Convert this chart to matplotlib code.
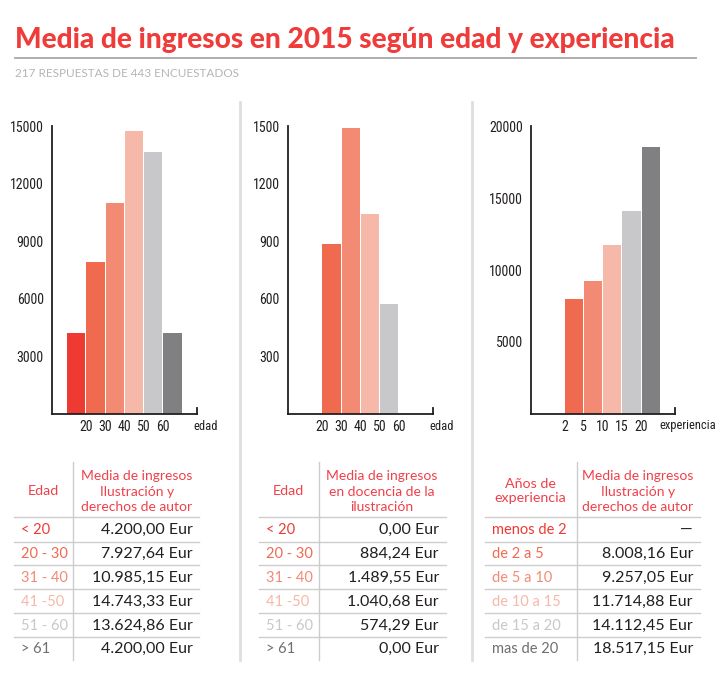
import numpy as np
import matplotlib
matplotlib.use("Agg")
import matplotlib.pyplot as plt
from matplotlib.lines import Line2D

W, H = 724, 678

TITLE = "Media de ingresos en 2015 según edad y experiencia"
SUBTITLE = "217 RESPUESTAS DE 443 ENCUESTADOS"

edad_labels = ["< 20", "20 - 30", "31 - 40", "41 -50", "51 - 60", "> 61"]
edad_ticks = ["20", "30", "40", "50", "60"]
ilus_edad = [4200.00, 7927.64, 10985.15, 14743.33, 13624.86, 4200.00]
docencia_edad = [0.00, 884.24, 1489.55, 1040.68, 574.29, 0.00]

exp_labels = ["menos de 2", "de 2 a 5", "de 5 a 10", "de 10 a 15", "de 15 a 20", "mas de 20"]
exp_ticks = ["2", "5", "10", "15", "20"]
ilus_exp = [np.nan, 8008.16, 9257.05, 11714.88, 14112.45, 18517.15]

COLORS = ["#EE3A33", "#F06A50", "#F28A74", "#F6B8A8", "#C8C8CA", "#808083"]
ROW_COLORS = ["#EE3A33", "#F06A50", "#F28A74", "#F6B8A8", "#C8C8CA", "#6D6E71"]
RED = "#EF3B39"
HEAD_RED = "#F0404A"
DARK = "#231F20"
LINE_GRAY = "#CDCDCD"

NUM_FONT = ["Roboto Condensed", "DejaVu Sans"]
TXT_FONT = ["Lato", "DejaVu Sans"]


def px(x, y):
    return x / W, 1 - y / H


def fmt_eur(v):
    if np.isnan(v):
        return "\u2014"
    s = f"{v:,.2f}".replace(",", "X").replace(".", ",").replace("X", ".")
    return s + " Eur"


fig = plt.figure(figsize=(W / 100, H / 100), dpi=100)
fig.patch.set_facecolor("white")

# title block
fig.text(*px(15, 48), TITLE, color=RED, fontsize=20.2, fontweight=900,
         family=TXT_FONT, ha="left", va="baseline")
fig.add_artist(Line2D([15 / W, 696 / W], [1 - 58 / H] * 2, color="#A8A8A8", lw=1.3))
fig.text(*px(15, 77), SUBTITLE, color="#B5B5B5", fontsize=8.5, family=TXT_FONT,
         ha="left", va="baseline")

# section separators
for sx in [240, 472]:
    fig.add_artist(Line2D([sx / W] * 2, [1 - 102 / H, 1 - 660 / H], color="#DEDEDE", lw=2))


def bar_panel(left, right, values, ymax, yticks, ticks, xlabel, xlabel_x):
    top, bottom = 126, 414
    ax = fig.add_axes([left / W, 1 - bottom / H, (right - left) / W, (bottom - top) / H])
    x = np.arange(len(values))
    ax.bar(x, np.nan_to_num(values), width=0.95, color=COLORS, linewidth=0)
    ax.set_xlim(-1.25, 6.27)
    ax.set_ylim(0, ymax)
    for s in ["top", "right"]:
        ax.spines[s].set_visible(False)
    for s in ["left", "bottom"]:
        ax.spines[s].set_color(DARK)
        ax.spines[s].set_linewidth(1.3)
    ax.axvline(6.27, ymin=0, ymax=0.022, color=DARK, lw=1.3, clip_on=False)
    ax.set_yticks(yticks)
    ax.set_yticklabels([str(t) for t in yticks], family=NUM_FONT, fontsize=10, color=DARK)
    ax.set_xticks(np.arange(len(ticks)) + 0.5)
    ax.set_xticklabels(ticks, family=NUM_FONT, fontsize=10, color=DARK)
    ax.tick_params(axis="y", length=0, pad=6)
    ax.tick_params(axis="x", length=0, pad=4)
    fig.text(*px(xlabel_x, 426), xlabel, family=NUM_FONT, fontsize=9, color=DARK,
             ha="center", va="center")
    return ax


bar_panel(52, 197, ilus_edad, 15000, [3000, 6000, 9000, 12000, 15000], edad_ticks, "edad", 206)
bar_panel(288, 433, docencia_edad, 1500, [300, 600, 900, 1200, 1500], edad_ticks, "edad", 442)
bar_panel(531, 675, ilus_exp, 20000, [5000, 10000, 15000, 20000], exp_ticks, "experiencia", 688)


def table(x0, x1, xdiv, head_left, head_left_x, head_right, head_right_x,
          labels, values, label_x, value_x):
    hl_y0 = 491 - 7.5 * (len(head_left) - 1)
    for i, t in enumerate(head_left):
        fig.text(*px(head_left_x, hl_y0 + 15 * i), t, color=HEAD_RED, family=TXT_FONT,
                 fontsize=10.3, ha="center", va="center")
    for i, t in enumerate(head_right):
        fig.text(*px(head_right_x, 476 + 15.5 * i), t, color=HEAD_RED, family=TXT_FONT,
                 fontsize=10, ha="center", va="center")
    fig.add_artist(Line2D([xdiv / W] * 2, [1 - 462 / H, 1 - 660 / H], color=LINE_GRAY, lw=1))
    row_lines = [517, 542, 565, 589, 613, 637]
    for ly in row_lines:
        fig.add_artist(Line2D([x0 / W, x1 / W], [1 - ly / H] * 2, color=LINE_GRAY, lw=1))
    row_y = [530, 554, 578, 602, 626, 649]
    for lab, val, c, ry in zip(labels, values, ROW_COLORS, row_y):
        fig.text(*px(label_x, ry), lab, color=c, family=TXT_FONT, fontsize=10.5,
                 ha="left", va="center")
        fig.text(*px(value_x, ry), fmt_eur(val), color=DARK, family=TXT_FONT, fontsize=11.5,
                 ha="right", va="center")


table(14, 199, 73, ["Edad"], 43,
      ["Media de ingresos", "Ilustración y", "derechos de autor"], 137,
      edad_labels, ilus_edad, 21, 193)
table(259, 446, 319, ["Edad"], 288,
      ["Media de ingresos", "en docencia de la", "ilustración"], 382,
      edad_labels, docencia_edad, 266, 439)
table(485, 700, 577, ["Años de", "experiencia"], 530,
      ["Media de ingresos", "Ilustración y", "derechos de autor"], 638,
      exp_labels, ilus_exp, 492, 693)

fig.savefig("out.png", dpi=100, facecolor="white")
